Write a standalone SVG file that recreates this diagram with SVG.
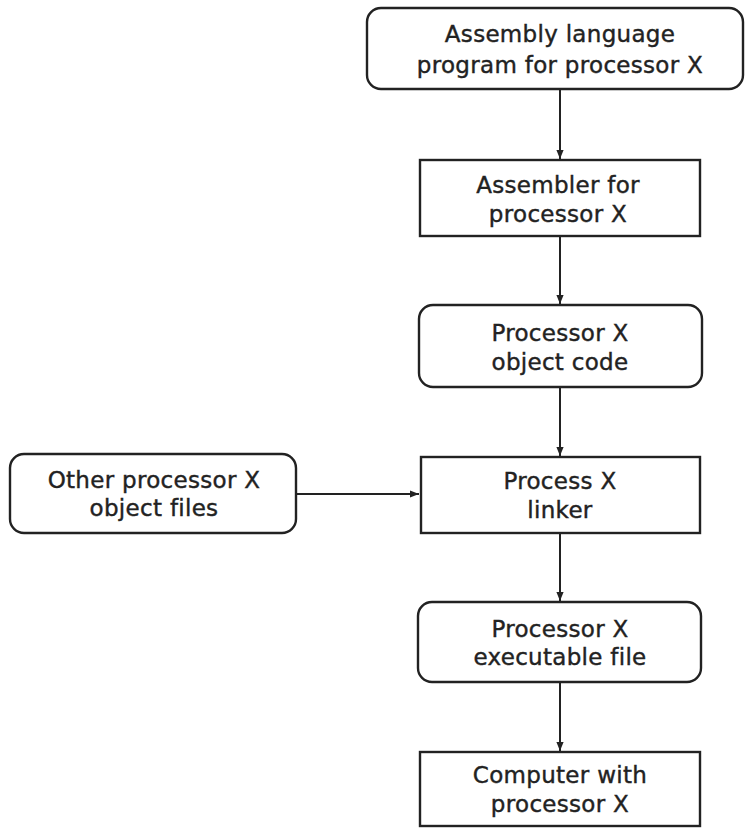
<svg xmlns="http://www.w3.org/2000/svg" width="745" height="828" viewBox="0 0 745 828">
<style>
.box{fill:#fff;stroke:#222;stroke-width:2.4}
.t{font-family:"DejaVu Sans",Verdana,sans-serif;font-size:23px;fill:#222;stroke:#222;stroke-width:0.4;text-anchor:middle;letter-spacing:0.3px}
.c{stroke:#222;stroke-width:2;fill:none}
</style>
<defs>
<marker id="ah" viewBox="0 0 10 10" refX="10" refY="5" markerWidth="9" markerHeight="9" markerUnits="userSpaceOnUse" orient="auto">
<path d="M0,1 L10,5 L0,9 Z" fill="#222"/>
</marker>
</defs>
<rect width="745" height="828" fill="#fff"/>
<g id="connectors">
<line class="c" x1="560" y1="89" x2="560" y2="159" marker-end="url(#ah)"/>
<line class="c" x1="560" y1="236" x2="560" y2="304" marker-end="url(#ah)"/>
<line class="c" x1="560" y1="387" x2="560" y2="456" marker-end="url(#ah)"/>
<line class="c" x1="296" y1="494" x2="419" y2="494" marker-end="url(#ah)"/>
<line class="c" x1="560" y1="533" x2="560" y2="601" marker-end="url(#ah)"/>
<line class="c" x1="560" y1="682" x2="560" y2="751" marker-end="url(#ah)"/>
</g>
<g id="n_asm_prog">
<rect class="box" x="367" y="8" width="376" height="81" rx="14"/>
<text class="t" x="560" y="42">Assembly language</text>
<text class="t" x="560" y="73">program for processor X</text>
</g>
<g id="n_assembler">
<rect class="box" x="420" y="160" width="280" height="76"/>
<text class="t" x="558" y="193">Assembler for</text>
<text class="t" x="558" y="222">processor X</text>
</g>
<g id="n_objcode">
<rect class="box" x="419" y="305" width="283" height="82" rx="14"/>
<text class="t" x="560" y="341">Processor X</text>
<text class="t" x="560" y="370">object code</text>
</g>
<g id="n_other">
<rect class="box" x="10" y="454" width="286" height="79" rx="14"/>
<text class="t" x="154" y="488">Other processor X</text>
<text class="t" x="154" y="516">object files</text>
</g>
<g id="n_linker">
<rect class="box" x="421" y="457" width="279" height="76"/>
<text class="t" x="560" y="489">Process X</text>
<text class="t" x="560" y="518">linker</text>
</g>
<g id="n_exe">
<rect class="box" x="418" y="602" width="283" height="80" rx="14"/>
<text class="t" x="560" y="637">Processor X</text>
<text class="t" x="560" y="665">executable file</text>
</g>
<g id="n_computer">
<rect class="box" x="420" y="752" width="280" height="74"/>
<text class="t" x="560" y="783">Computer with</text>
<text class="t" x="560" y="812">processor X</text>
</g>
</svg>
